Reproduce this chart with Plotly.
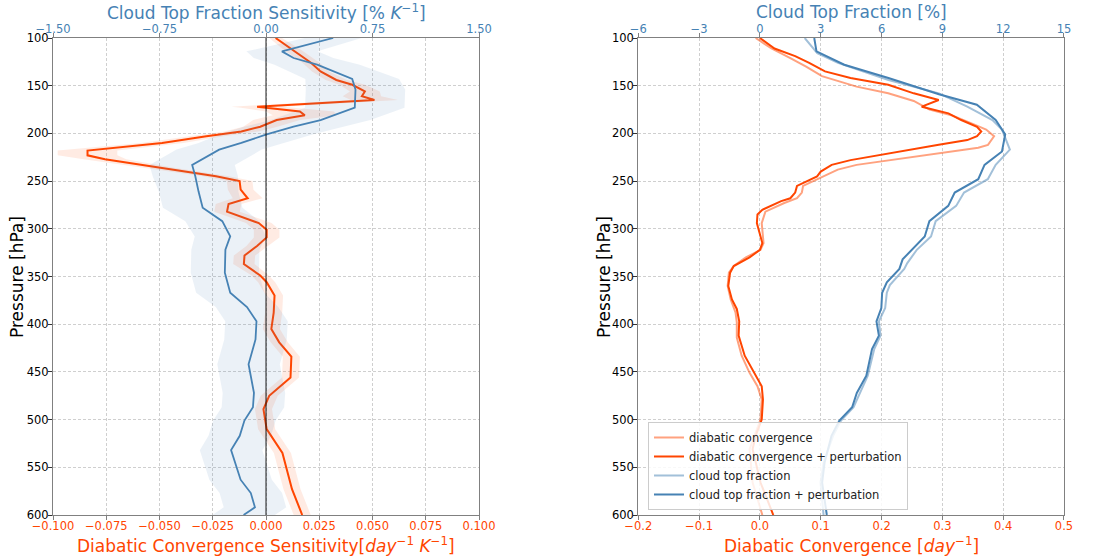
import plotly.graph_objects as go

# ---------------- data ----------------
# Left panel: diabatic convergence sensitivity [day^-1 K^-1] (bottom axis)
dcs_p = [100, 112, 126, 135, 144, 149, 156, 161, 165, 172, 173, 177, 181, 186, 193, 198, 203, 210,
         218, 223, 227, 236, 245, 250, 259, 268, 274, 282, 294, 301, 309, 318, 328, 337, 349, 356,
         370, 388, 405, 419, 434, 456, 466, 475, 489, 510, 535, 573, 600]
dcs_v = [0.0045, 0.0122, 0.0211, 0.0256, 0.033, 0.0405, 0.0464, 0.045, 0.0509, -0.0042, 0.0003,
         0.0159, 0.0182, 0.005, -0.0027, -0.0116, -0.028, -0.0488, -0.0838, -0.0838, -0.0756,
         -0.0503, -0.0235, -0.0124, -0.0119, -0.0086, -0.0176, -0.0183, -0.0034, 0.0003, 0.0003,
         -0.0042, -0.0101, -0.0104, -0.0027, 0.0003, 0.004, 0.0036, 0.0025, 0.0062, 0.0119, 0.0115,
         0.0062, 0.0015, -0.0012, 0.0003, 0.0077, 0.0122, 0.017]
dcs_err = [0.003, 0.004, 0.004, 0.004, 0.005, 0.006, 0.007, 0.009, 0.011, 0.012, 0.012, 0.016,
           0.015, 0.011, 0.008, 0.008, 0.008, 0.010, 0.014, 0.014, 0.010, 0.007, 0.006, 0.006,
           0.006, 0.007, 0.006, 0.006, 0.006, 0.006, 0.006, 0.005, 0.005, 0.005, 0.004, 0.004,
           0.004, 0.004, 0.004, 0.004, 0.004, 0.004, 0.004, 0.004, 0.004, 0.004, 0.004, 0.004, 0.004]

# Left panel: cloud top fraction sensitivity [% K^-1] (top axis)
ctfs_p = [100, 114, 121, 128, 143, 154, 173, 186, 193, 201, 210, 217, 233, 245, 261, 278, 292, 308,
          322, 336, 346, 367, 382, 397, 416, 442, 472, 487, 501, 517, 532, 563, 577, 592, 600]
ctfs_v = [0.473, 0.112, 0.194, 0.36, 0.607, 0.63, 0.625, 0.384, 0.194, 0.004, -0.174, -0.33, -0.52,
          -0.498, -0.475, -0.446, -0.308, -0.252, -0.286, -0.29, -0.29, -0.252, -0.134, -0.067,
          -0.074, -0.123, -0.085, -0.092, -0.152, -0.185, -0.246, -0.179, -0.107, -0.078, -0.158]
ctfs_err = [0.2, 0.25, 0.28, 0.3, 0.33, 0.35, 0.35, 0.35, 0.35, 0.33, 0.3, 0.3, 0.3, 0.3, 0.28,
            0.28, 0.26, 0.25, 0.24, 0.24, 0.24, 0.24, 0.22, 0.22, 0.22, 0.22, 0.22, 0.22, 0.22,
            0.22, 0.22, 0.22, 0.22, 0.22, 0.22]

# Right panel: diabatic convergence [day^-1] (bottom axis)
dc_p = [100, 111, 121, 130, 140, 151, 158, 166, 175, 181, 189, 196, 203, 212, 215, 221, 228, 233,
        238, 248, 255, 262, 268, 273, 282, 294, 315, 322, 330, 339, 346, 360, 374, 388, 398, 414,
        433, 451, 465, 479, 500, 517, 531, 566, 600]
dc_v = [-0.007, 0.019, 0.050, 0.076, 0.102, 0.159, 0.211, 0.253, 0.279, 0.315, 0.346, 0.372, 0.385,
        0.375, 0.359, 0.294, 0.211, 0.159, 0.128, 0.094, 0.071, 0.069, 0.061, 0.040, 0.009, 0.003,
        0.006, 0.001, -0.023, -0.043, -0.051, -0.053, -0.048, -0.040, -0.038, -0.038, -0.030,
        -0.017, -0.004, 0.003, 0.001, -0.009, -0.017, -0.012, 0.004]

dcp_p = [100, 111, 119, 126, 135, 142, 149, 158, 165, 172, 179, 186, 193, 198, 203, 207, 212, 221,
         228, 233, 240, 245, 255, 262, 268, 271, 280, 285, 294, 315, 322, 330, 339, 346, 360, 374,
         384, 397, 412, 433, 451, 465, 479, 500, 517, 531, 566, 600]
dcp_v = [0.0, 0.024, 0.058, 0.081, 0.107, 0.149, 0.211, 0.253, 0.294, 0.266, 0.31, 0.331, 0.357,
         0.364, 0.357, 0.341, 0.294, 0.211, 0.149, 0.118, 0.100, 0.094, 0.061, 0.058, 0.050, 0.035,
         0.004, -0.004, -0.005, 0.004, 0.0, -0.017, -0.043, -0.049, -0.052, -0.046, -0.038, -0.034,
         -0.035, -0.025, -0.009, 0.003, 0.005, 0.003, -0.007, -0.012, 0.001, 0.022]

# Right panel: cloud top fraction [%] (top axis)
ctf_p = [100, 116, 126, 144, 158, 172, 186, 196, 217, 233, 248, 262, 276, 292, 308, 322, 336, 342,
         359, 367, 383, 397, 412, 426, 454, 472, 487, 501, 517, 545, 566, 600]
ctf_v = [2.21, 2.83, 3.85, 6.34, 8.83, 10.23, 11.47, 11.94, 12.33, 11.63, 11.24, 10.07, 9.68, 8.67,
         8.44, 7.74, 7.27, 7.12, 6.41, 6.26, 6.18, 5.87, 5.95, 5.64, 5.32, 4.94, 4.62, 4.0, 3.61,
         3.14, 2.99, 3.14]

ctfp_p = [100, 114, 128, 142, 159, 170, 186, 201, 219, 233, 248, 262, 276, 292, 308, 322, 332, 342,
          356, 367, 383, 397, 412, 426, 454, 472, 487, 501, 517, 545, 566, 600]
ctfp_v = [2.68, 2.79, 4.16, 6.34, 8.83, 10.7, 11.63, 12.1, 11.94, 11.08, 10.77, 9.61, 9.29, 8.36,
          8.13, 7.5, 7.04, 6.88, 6.26, 6.03, 5.99, 5.75, 5.87, 5.53, 5.25, 4.78, 4.55, 3.92, 3.53,
          3.19, 3.07, 3.30]

p_ticks = [100, 150, 200, 250, 300, 350, 400, 450, 500, 550, 600]
dcs_ticks = [-0.1, -0.075, -0.05, -0.025, 0.0, 0.025, 0.05, 0.075, 0.1]
ctfs_ticks = [-1.5, -0.75, 0.0, 0.75, 1.5]
dc_ticks = [-0.2, -0.1, 0.0, 0.1, 0.2, 0.3, 0.4, 0.5]
ctf_ticks = [-6, -3, 0, 3, 6, 9, 12, 15]

labels = ["diabatic convergence", "diabatic convergence + perturbation",
          "cloud top fraction", "cloud top fraction + perturbation"]

# ---------------- styling ----------------
ORANGE = "#FF4500"
BLUE = "#4682B4"
ORANGE_L = "rgba(255,69,0,0.5)"
BLUE_L = "rgba(70,130,180,0.5)"
FONT = "DejaVu Sans"
GRID = "#cfcfcf"
FRAME = "#808080"
TICKSIZE = 11.5


def band(p, v, err):
    lo = [a - e for a, e in zip(v, err)]
    hi = [a + e for a, e in zip(v, err)]
    return lo + hi[::-1], p + p[::-1]


fig = go.Figure()

# left panel bands
bx, by = band(dcs_p, dcs_v, dcs_err)
fig.add_trace(go.Scatter(x=bx, y=by, xaxis="x", yaxis="y", fill="toself",
                         fillcolor="rgba(255,99,40,0.13)", line=dict(width=0),
                         mode="lines", showlegend=False, hoverinfo="skip"))
bx, by = band(ctfs_p, ctfs_v, ctfs_err)
fig.add_trace(go.Scatter(x=bx, y=by, xaxis="x2", yaxis="y", fill="toself",
                         fillcolor="rgba(70,130,180,0.11)", line=dict(width=0),
                         mode="lines", showlegend=False, hoverinfo="skip"))
# left panel lines
fig.add_trace(go.Scatter(x=ctfs_v, y=ctfs_p, xaxis="x2", yaxis="y", mode="lines",
                         line=dict(color=BLUE, width=1.8), showlegend=False))
fig.add_trace(go.Scatter(x=dcs_v, y=dcs_p, xaxis="x", yaxis="y", mode="lines",
                         line=dict(color=ORANGE, width=2), showlegend=False))

# right panel lines
fig.add_trace(go.Scatter(x=dc_v, y=dc_p, xaxis="x3", yaxis="y2", mode="lines",
                         line=dict(color=ORANGE_L, width=2), name=labels[0]))
fig.add_trace(go.Scatter(x=dcp_v, y=dcp_p, xaxis="x3", yaxis="y2", mode="lines",
                         line=dict(color=ORANGE, width=2), name=labels[1]))
fig.add_trace(go.Scatter(x=ctf_v, y=ctf_p, xaxis="x4", yaxis="y2", mode="lines",
                         line=dict(color=BLUE_L, width=2), name=labels[2]))
fig.add_trace(go.Scatter(x=ctfp_v, y=ctfp_p, xaxis="x4", yaxis="y2", mode="lines",
                         line=dict(color=BLUE, width=2), name=labels[3]))

common_x = dict(showline=True, linecolor=FRAME, linewidth=1.2, zeroline=False,
                ticks="outside", ticklen=4, tickcolor=FRAME, showgrid=True,
                gridcolor=GRID, griddash="3px,2px", gridwidth=0.8, ticklabelstandoff=-4)
common_top = dict(showline=True, linecolor=FRAME, linewidth=1.2, zeroline=False,
                  ticks="outside", ticklen=4, tickcolor=FRAME, showgrid=False, side="top",
                  ticklabelstandoff=-5,
                  tickfont=dict(color=BLUE, size=TICKSIZE, family=FONT))
common_y = dict(range=[600, 100], tickvals=p_ticks, showline=True, linecolor=FRAME,
                linewidth=1.2, mirror=True, zeroline=False, ticks="outside", ticklen=4,
                tickcolor="#333", showgrid=True, gridcolor=GRID, griddash="3px,2px",
                gridwidth=0.8, ticklabelstandoff=-3,
                tickfont=dict(color="black", size=TICKSIZE, family=FONT))

L_DOM = [0.0, 0.4214]
R_DOM = [0.5789, 1.0]

fig.update_layout(
    width=1101, height=558,
    margin=dict(l=53, r=37, t=38, b=43),
    plot_bgcolor="white", paper_bgcolor="white",
    font=dict(family=FONT, size=11, color="black"),
    xaxis=dict(domain=L_DOM, anchor="y", range=[-0.1, 0.1], tickvals=dcs_ticks,
               tickformat=".3f", tickfont=dict(color=ORANGE, size=TICKSIZE, family=FONT),
               **common_x),
    xaxis2=dict(overlaying="x", anchor="y", range=[-1.5, 1.5], tickvals=ctfs_ticks,
                tickformat=".2f", **common_top),
    yaxis=dict(domain=[0, 1], anchor="x", **common_y),
    xaxis3=dict(domain=R_DOM, anchor="y2", range=[-0.2, 0.5], tickvals=dc_ticks,
                tickformat=".1f", tickfont=dict(color=ORANGE, size=TICKSIZE, family=FONT),
                **common_x),
    xaxis4=dict(overlaying="x3", anchor="y2", range=[-6, 15], tickvals=ctf_ticks,
                tickformat="d", **common_top),
    yaxis2=dict(domain=[0, 1], anchor="x3", **common_y),
    legend=dict(x=0.5885, y=0.0105, xanchor="left", yanchor="bottom",
                bgcolor="rgba(255,255,255,0.85)", bordercolor="#cccccc", borderwidth=1,
                font=dict(size=11.5, family=FONT, color="#222"), tracegroupgap=0),
    showlegend=True,
)

# vertical zero line on the left panel
fig.add_shape(type="line", xref="x", yref="y domain", x0=0, x1=0, y0=0, y1=1,
              line=dict(color="rgba(0,0,0,0.6)", width=1.5), layer="above")

TITLE = 17
ann = [
    dict(x=0.2107, y=1.055, text="Cloud Top Fraction Sensitivity [% <i>K</i><sup>−1</sup>]",
         font=dict(color=BLUE, size=TITLE, family=FONT)),
    dict(x=0.2107, y=-0.063, text="Diabatic Convergence Sensitivity[<i>day</i><sup>−1</sup> <i>K</i><sup>−1</sup>]",
         font=dict(color=ORANGE, size=TITLE, family=FONT)),
    dict(x=0.7895, y=1.055, text="Cloud Top Fraction [%]",
         font=dict(color=BLUE, size=TITLE, family=FONT)),
    dict(x=0.7895, y=-0.063, text="Diabatic Convergence [<i>day</i><sup>−1</sup>]",
         font=dict(color=ORANGE, size=TITLE, family=FONT)),
    dict(x=-0.0356, y=0.499, text="Pressure [hPa]", textangle=-90,
         font=dict(color="black", size=TITLE, family=FONT)),
    dict(x=0.545, y=0.499, text="Pressure [hPa]", textangle=-90,
         font=dict(color="black", size=TITLE, family=FONT)),
]
for a in ann:
    fig.add_annotation(xref="paper", yref="paper", showarrow=False,
                       xanchor="center", yanchor="middle", **a)

fig.write_html("out.html", config={"displayModeBar": False},
               post_script="document.body.style.margin='0';document.body.style.padding='0';")
